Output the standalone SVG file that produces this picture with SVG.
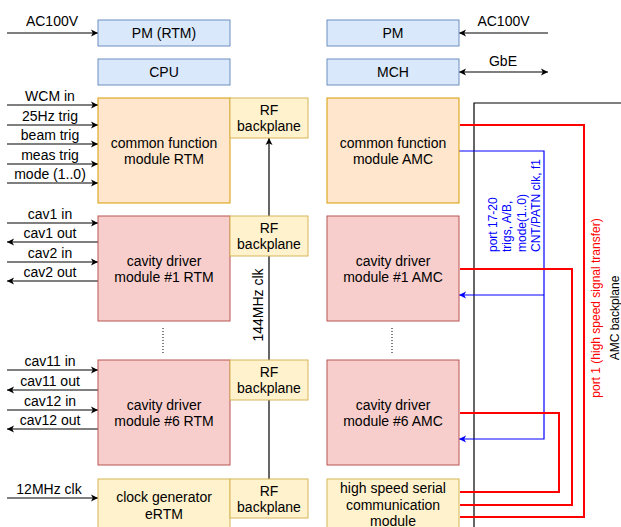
<svg xmlns="http://www.w3.org/2000/svg" width="621" height="527" viewBox="0 0 621 527">
  <style>
    text { font-family: "Liberation Sans", Arial, Helvetica, sans-serif; font-size: 14px; fill: #000; }
    .c { text-anchor: middle; }
    .blue-box { fill: #dae8fc; stroke: #6c8ebf; stroke-width: 1; }
    .orange-box { fill: #ffe6cc; stroke: #d79b00; stroke-width: 1; }
    .red-box { fill: #f8cecc; stroke: #b85450; stroke-width: 1; }
    .yellow-box { fill: #fff2cc; stroke: #d6b656; stroke-width: 1; }
    .wire { fill: none; stroke: #000; stroke-width: 1.2; }
    .arrow { fill: none; stroke: #000; stroke-width: 1.2; marker-end: url(#arrowBlack); }
    .dual { fill: none; stroke: #000; stroke-width: 1.2; marker-start: url(#arrowBlack); marker-end: url(#arrowBlack); }
    .hs { fill: none; stroke: #ff0000; stroke-width: 2; }
    .ctl { fill: none; stroke: #0000ff; stroke-width: 1.2; }
    .ctl-arrow { fill: none; stroke: #0000ff; stroke-width: 1.2; marker-end: url(#arrowBlue); }
    .dots { fill: none; stroke: #000; stroke-width: 1; stroke-dasharray: 1 2; }
    .small { font-size: 12px; }
  </style>
  <defs>
    <marker id="arrowBlack" markerUnits="userSpaceOnUse" markerWidth="9" markerHeight="9" refX="8" refY="4.5" orient="auto-start-reverse">
      <path d="M1,1 L8,4.5 L1,8 L2.8,4.5 Z" fill="#000"/>
    </marker>
    <marker id="arrowBlue" markerUnits="userSpaceOnUse" markerWidth="9" markerHeight="9" refX="8" refY="4.5" orient="auto-start-reverse">
      <path d="M1,1 L8,4.5 L1,8 L2.8,4.5 Z" fill="#0000ff"/>
    </marker>
  </defs>

  <!-- connectors -->
  <g id="connectors">
    <!-- left-side signal inputs and outputs -->
    <line class="arrow" x1="7" y1="33" x2="98" y2="33"/>
    <line class="arrow" x1="7" y1="105" x2="98" y2="105"/>
    <line class="arrow" x1="7" y1="125" x2="98" y2="125"/>
    <line class="arrow" x1="7" y1="144" x2="98" y2="144"/>
    <line class="arrow" x1="7" y1="164" x2="98" y2="164"/>
    <line class="arrow" x1="7" y1="183" x2="98" y2="183"/>
    <line class="arrow" x1="7" y1="223" x2="98" y2="223"/>
    <line class="arrow" x1="98" y1="242" x2="7" y2="242"/>
    <line class="arrow" x1="7" y1="262" x2="98" y2="262"/>
    <line class="arrow" x1="98" y1="281" x2="7" y2="281"/>
    <line class="arrow" x1="7" y1="370" x2="98" y2="370"/>
    <line class="arrow" x1="98" y1="390" x2="7" y2="390"/>
    <line class="arrow" x1="7" y1="410" x2="98" y2="410"/>
    <line class="arrow" x1="98" y1="429" x2="7" y2="429"/>
    <line class="arrow" x1="7" y1="498" x2="98" y2="498"/>

    <!-- 144 MHz clock up the RF backplane -->
    <line class="arrow" x1="269" y1="479" x2="269" y2="138"/>

    <!-- right-side power and GbE -->
    <line class="arrow" x1="548" y1="33" x2="459" y2="33"/>
    <line class="dual" x1="459" y1="72" x2="548" y2="72"/>

    <!-- AMC backplane frame -->
    <polyline class="wire" points="621,103 474,103 474,527"/>

    <!-- port 17-20 control bus -->
    <polyline class="ctl-arrow" points="459,151 544,151 544,439 459,439"/>
    <polyline class="ctl-arrow" points="544,295 459,295"/>

    <!-- port 1 high speed links -->
    <polyline class="hs" points="460,125 584,125 584,517 460,517"/>
    <polyline class="hs" points="460,269 572,269 572,505 460,505"/>
    <polyline class="hs" points="460,413 559,413 559,492 460,492"/>

    <!-- elision dots between module slots -->
    <line class="dots" x1="163" y1="328" x2="163" y2="353"/>
    <line class="dots" x1="392" y1="328" x2="392" y2="353"/>

    <!-- connector labels -->
    <text class="c" x="52" y="25.5">AC100V</text>
    <text class="c" x="50" y="101">WCM in</text>
    <text class="c" x="50" y="121">25Hz trig</text>
    <text class="c" x="50" y="140">beam trig</text>
    <text class="c" x="50" y="160">meas trig</text>
    <text class="c" x="50" y="179">mode (1..0)</text>
    <text class="c" x="50" y="219">cav1 in</text>
    <text class="c" x="50" y="238">cav1 out</text>
    <text class="c" x="50" y="258">cav2 in</text>
    <text class="c" x="50" y="277">cav2 out</text>
    <text class="c" x="50" y="366">cav11 in</text>
    <text class="c" x="50" y="386">cav11 out</text>
    <text class="c" x="50" y="406">cav12 in</text>
    <text class="c" x="50" y="425">cav12 out</text>
    <text class="c" x="49" y="494">12MHz clk</text>
    <text class="c" x="503.5" y="25.5">AC100V</text>
    <text class="c" x="503" y="66">GbE</text>
    <text class="c" transform="translate(263,305) rotate(-90)">144MHz clk</text>
    <text class="small" style="fill:#0000ff" transform="translate(497,252) rotate(-90)"><tspan x="0" y="0">port 17-20</tspan><tspan x="0" y="14.4">trigs, A/B,</tspan><tspan x="0" y="28.8">mode(1..0)</tspan><tspan x="0" y="43.2">CNT/PATN clk, f1</tspan></text>
    <text class="c small" style="fill:#ff0000" transform="translate(600,308) rotate(-90)">port 1 (high speed signal transfer)</text>
    <text class="c small" transform="translate(618.5,318) rotate(-90)">AMC backplane</text>
  </g>

  <!-- RTM side -->
  <g id="pm-rtm">
    <rect class="blue-box" x="98" y="20" width="132" height="26"/>
    <text class="c" x="164" y="38">PM (RTM)</text>
  </g>
  <g id="cpu">
    <rect class="blue-box" x="98" y="59" width="132" height="26"/>
    <text class="c" x="164" y="77">CPU</text>
  </g>
  <g id="common-rtm">
    <rect class="orange-box" x="98" y="98" width="132" height="105"/>
    <text class="c" x="164" y="147.6">common function</text>
    <text class="c" x="164" y="164.4">module RTM</text>
  </g>
  <g id="rf-backplane-1">
    <rect class="yellow-box" x="230" y="98" width="78" height="40"/>
    <text class="c" x="269" y="114.6">RF</text>
    <text class="c" x="269" y="131.4">backplane</text>
  </g>
  <g id="cavity-1-rtm">
    <rect class="red-box" x="98" y="216" width="132" height="105"/>
    <text class="c" x="164" y="265.6">cavity driver</text>
    <text class="c" x="164" y="282.4">module #1 RTM</text>
  </g>
  <g id="rf-backplane-2">
    <rect class="yellow-box" x="230" y="216" width="78" height="40"/>
    <text class="c" x="269" y="232.6">RF</text>
    <text class="c" x="269" y="249.4">backplane</text>
  </g>
  <g id="cavity-6-rtm">
    <rect class="red-box" x="98" y="360" width="132" height="105"/>
    <text class="c" x="164" y="409.6">cavity driver</text>
    <text class="c" x="164" y="426.4">module #6 RTM</text>
  </g>
  <g id="rf-backplane-3">
    <rect class="yellow-box" x="230" y="360" width="78" height="40"/>
    <text class="c" x="269" y="376.6">RF</text>
    <text class="c" x="269" y="393.4">backplane</text>
  </g>
  <g id="clock-ertm">
    <rect class="yellow-box" x="98" y="479" width="132" height="53"/>
    <text class="c" x="164" y="502">clock generator</text>
    <text class="c" x="164" y="518.8">eRTM</text>
  </g>
  <g id="rf-backplane-4">
    <rect class="yellow-box" x="230" y="479" width="78" height="39"/>
    <text class="c" x="269" y="495.5">RF</text>
    <text class="c" x="269" y="512.3">backplane</text>
  </g>

  <!-- AMC side -->
  <g id="pm-amc">
    <rect class="blue-box" x="327" y="20" width="132" height="26"/>
    <text class="c" x="393" y="38">PM</text>
  </g>
  <g id="mch">
    <rect class="blue-box" x="327" y="59" width="132" height="26"/>
    <text class="c" x="393" y="77">MCH</text>
  </g>
  <g id="common-amc">
    <rect class="orange-box" x="327" y="98" width="132" height="105"/>
    <text class="c" x="393" y="147.6">common function</text>
    <text class="c" x="393" y="164.4">module AMC</text>
  </g>
  <g id="cavity-1-amc">
    <rect class="red-box" x="327" y="216" width="132" height="105"/>
    <text class="c" x="393" y="265.6">cavity driver</text>
    <text class="c" x="393" y="282.4">module #1 AMC</text>
  </g>
  <g id="cavity-6-amc">
    <rect class="red-box" x="327" y="360" width="132" height="105"/>
    <text class="c" x="393" y="409.6">cavity driver</text>
    <text class="c" x="393" y="426.4">module #6 AMC</text>
  </g>
  <g id="hs-serial">
    <rect class="yellow-box" x="327" y="479" width="132" height="53"/>
    <text class="c" x="393" y="493">high speed serial</text>
    <text class="c" x="393" y="509.5">communication</text>
    <text class="c" x="393" y="526">module</text>
  </g>
</svg>
